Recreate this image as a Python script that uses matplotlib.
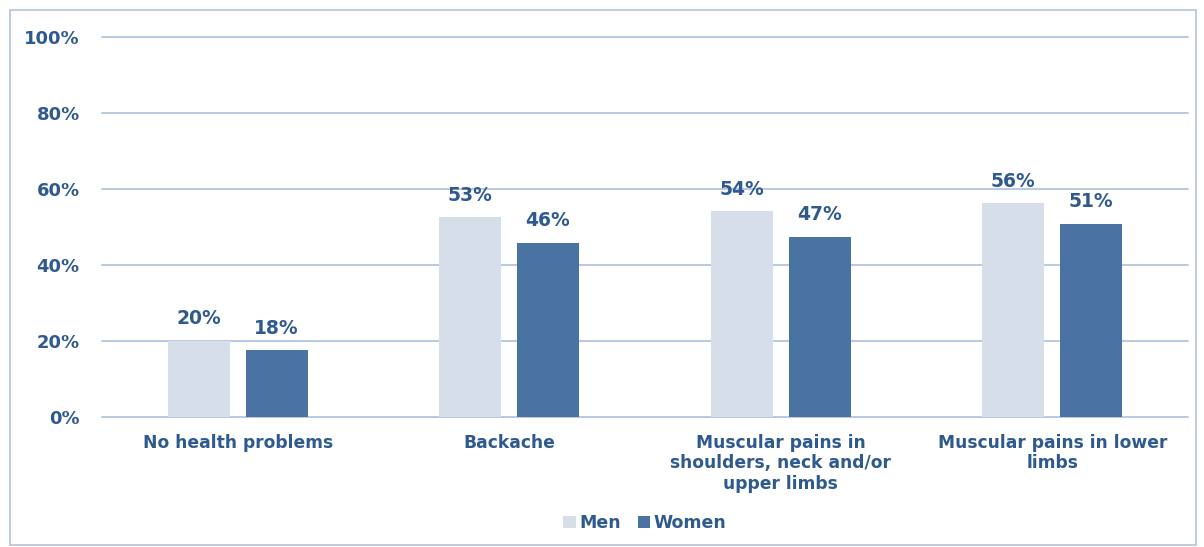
import numpy as np
import matplotlib.pyplot as plt
from matplotlib.patches import Rectangle

categories = ["No health problems", "Backache",
              "Muscular pains in\nshoulders, neck and/or\nupper limbs",
              "Muscular pains in lower\nlimbs"]
men = [20.1, 52.6, 54.2, 56.3]
women = [17.6, 45.8, 47.4, 50.8]
yticks = [0, 20, 40, 60, 80, 100]

txt = "#2F5A8F"
c_men = "#D6DEEA"
c_women = "#4A72A3"
grid = "#A6BAD8"

plt.rcParams['font.family'] = ['DejaVu Sans']
fig = plt.figure(figsize=(12.04, 5.47), dpi=100)
ax = fig.add_axes([0.0847, 0.2377, 0.902, 0.6947])

x = np.arange(len(categories))
w = 0.228
b1 = ax.bar(x - 0.143, men, w, color=c_men, label="Men", zorder=3)
b2 = ax.bar(x + 0.143, women, w, color=c_women, label="Women", zorder=3)

for bars in (b1, b2):
    for r in bars:
        ax.annotate("%d%%" % round(r.get_height()),
                    (r.get_x() + r.get_width() / 2, r.get_height()),
                    xytext=(0, 9), textcoords="offset points",
                    ha="center", va="bottom", color=txt,
                    fontsize=13.5, fontweight="bold")

ax.set_xlim(-0.5, len(categories) - 0.5)
ax.set_ylim(0, 100)
ax.set_yticks(yticks)
ax.set_yticklabels(["%d%%" % v for v in yticks], color=txt,
                   fontsize=13, fontweight="bold")
ax.set_xticks(x)
ax.set_xticklabels(categories, color=txt, fontsize=12.3,
                   fontweight="bold", linespacing=1.2, va="top")
ax.tick_params(axis="both", length=0)
ax.tick_params(axis="y", pad=16)
ax.tick_params(axis="x", pad=12)
ax.grid(axis="y", color=grid, linewidth=1.1, zorder=0)
for gl in ax.get_ygridlines():
    gl.set_clip_on(False)
for s in ax.spines.values():
    s.set_visible(False)

leg = ax.legend(loc="upper center", bbox_to_anchor=(0.5, -0.215), ncol=2,
                frameon=False, handlelength=0.7, handleheight=0.7,
                handletextpad=0.2, columnspacing=1.0,
                prop={"size": 12.5, "weight": "bold"})
for t in leg.get_texts():
    t.set_color(txt)

fig.patches.append(Rectangle((10 / 1204, 2 / 547), 1186 / 1204, 535 / 547,
                             transform=fig.transFigure, fill=False,
                             edgecolor="#B4C3DB", linewidth=1.2))

fig.savefig("out.png", dpi=100)
